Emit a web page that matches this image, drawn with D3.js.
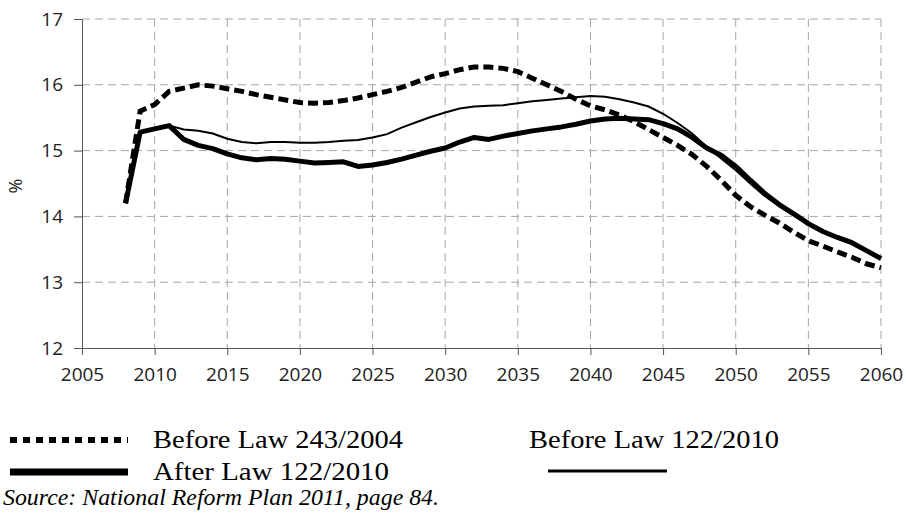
<!DOCTYPE html>
<html>
<head>
<meta charset="utf-8">
<script src="https://cdn.jsdelivr.net/npm/d3@7"></script>
<style>
  body { margin: 0; background: #fff; }
  svg { display: block; }
  .tick text, .axis-title { font-family: 'Open Sans', sans-serif; fill: #222; }
  .legend text { font-family: 'Liberation Serif', 'Times New Roman', serif; fill: #000; }
  text.source { font-family: 'Liberation Serif', 'Times New Roman', serif; font-style: italic; fill: #000; }
</style>
</head>
<body>
<svg id="chart" width="906" height="513"></svg>
<script>
// --- data (share of GDP, %) ---
const years = [2008, 2009, 2010, 2011, 2012, 2013, 2014, 2015, 2016, 2017, 2018, 2019,
  2020, 2021, 2022, 2023, 2024, 2025, 2026, 2027, 2028, 2029, 2030, 2031, 2032, 2033,
  2034, 2035, 2036, 2037, 2038, 2039, 2040, 2041, 2042, 2043, 2044, 2045, 2046, 2047,
  2048, 2049, 2050, 2051, 2052, 2053, 2054, 2055, 2056, 2057, 2058, 2059, 2060];

const before243 = [14.2, 15.6, 15.7, 15.9, 15.95, 16.0, 15.98, 15.94, 15.9, 15.85, 15.81, 15.77,
  15.73, 15.72, 15.73, 15.76, 15.8, 15.85, 15.9, 15.96, 16.04, 16.12, 16.17, 16.23, 16.27, 16.27,
  16.25, 16.2, 16.1, 16.0, 15.9, 15.78, 15.68, 15.62, 15.54, 15.44, 15.32, 15.2, 15.08, 14.94,
  14.76, 14.55, 14.32, 14.15, 14.02, 13.9, 13.76, 13.63, 13.55, 13.46, 13.38, 13.28, 13.22];

const after122 = [14.2, 15.28, 15.33, 15.38, 15.17, 15.08, 15.03, 14.95, 14.89, 14.86, 14.88, 14.87,
  14.84, 14.81, 14.82, 14.83, 14.76, 14.78, 14.82, 14.87, 14.93, 14.99, 15.04, 15.13, 15.2, 15.17,
  15.22, 15.26, 15.3, 15.33, 15.36, 15.4, 15.45, 15.48, 15.49, 15.48, 15.47, 15.41, 15.33, 15.2,
  15.04, 14.93, 14.76, 14.55, 14.35, 14.18, 14.04, 13.89, 13.77, 13.68, 13.6, 13.48, 13.36];

const before122 = [14.2, 15.28, 15.33, 15.38, 15.32, 15.3, 15.26, 15.18, 15.13, 15.11, 15.13, 15.13,
  15.12, 15.12, 15.13, 15.15, 15.16, 15.2, 15.25, 15.35, 15.43, 15.51, 15.58, 15.64, 15.67, 15.68,
  15.69, 15.72, 15.75, 15.77, 15.79, 15.81, 15.83, 15.82, 15.78, 15.73, 15.67, 15.56, 15.42, 15.26,
  15.06, 14.88, 14.7, 14.5, 14.31, 14.15, 14.01, 13.87, 13.76, 13.67, 13.59, 13.48, 13.38];

const xTicks = [2005, 2010, 2015, 2020, 2025, 2030, 2035, 2040, 2045, 2050, 2055, 2060];
const yTicks = [12, 13, 14, 15, 16, 17];
const legendLabels = ['Before Law 243/2004', 'Before Law 122/2010', 'After Law 122/2010'];
const sourceNote = 'Source: National Reform Plan 2011, page 84.';

// --- layout ---
const svg = d3.select('#chart');
const margin = { top: 19, right: 25, bottom: 165, left: 82 };
const W = 906, H = 513;
const plotW = W - margin.left - margin.right;
const plotH = H - margin.top - margin.bottom;

const x = d3.scaleLinear().domain([2005, 2060]).range([0, plotW]);
const y = d3.scaleLinear().domain([12, 17]).range([plotH, 0]);

const g = svg.append('g').attr('transform', `translate(${margin.left},${margin.top})`);

// dashed grid
g.append('g').selectAll('line')
  .data(yTicks.slice(1))
  .join('line')
  .attr('x1', 0).attr('x2', plotW)
  .attr('y1', d => y(d)).attr('y2', d => y(d))
  .attr('stroke', '#a6a6a6').attr('stroke-width', 1).attr('stroke-dasharray', '8,5');

g.append('g').selectAll('line')
  .data(xTicks.slice(1))
  .join('line')
  .attr('x1', d => x(d)).attr('x2', d => x(d))
  .attr('y1', 0).attr('y2', plotH)
  .attr('stroke', '#a6a6a6').attr('stroke-width', 1).attr('stroke-dasharray', '8,5');

// axes
g.append('g')
  .attr('transform', `translate(0,${plotH})`)
  .call(d3.axisBottom(x).tickValues(xTicks).tickFormat(d3.format('d')).tickSize(7).tickSizeOuter(0).tickPadding(13))
  .call(a => a.selectAll('text').attr('font-size', 19))
  .call(a => a.selectAll('line, path').attr('stroke', '#555'));

g.append('g')
  .call(d3.axisLeft(y).tickValues(yTicks).tickFormat(d3.format('d')).tickSize(8).tickSizeOuter(0).tickPadding(11))
  .call(a => a.selectAll('text').attr('font-size', 19))
  .call(a => a.selectAll('line, path').attr('stroke', '#555'));

svg.append('text')
  .attr('class', 'axis-title')
  .attr('transform', 'translate(22,186) rotate(-90)')
  .attr('text-anchor', 'middle')
  .attr('font-size', 18)
  .text('%');

// series
const line = vals => d3.line()
  .x((d, i) => x(years[i]))
  .y(d => y(d))(vals);

g.append('path')
  .attr('d', line(before122))
  .attr('fill', 'none').attr('stroke', '#000').attr('stroke-width', 2);

g.append('path')
  .attr('d', line(after122))
  .attr('fill', 'none').attr('stroke', '#000').attr('stroke-width', 5)
  .attr('stroke-linejoin', 'round');

g.append('path')
  .attr('d', line(before243))
  .attr('fill', 'none').attr('stroke', '#000').attr('stroke-width', 5)
  .attr('stroke-dasharray', '10,5');

// legend (serif, as in the source document; glyphs are a little stretched there)
const leg = svg.append('g').attr('class', 'legend');
const legText = (sel, len) => sel
  .attr('font-size', 25)
  .attr('textLength', len)
  .attr('lengthAdjust', 'spacingAndGlyphs');

leg.append('line')
  .attr('x1', 10).attr('x2', 128).attr('y1', 440).attr('y2', 440)
  .attr('stroke', '#000').attr('stroke-width', 6).attr('stroke-dasharray', '7,6');
leg.append('text').attr('x', 153).attr('y', 448)
  .call(legText, 250).text(legendLabels[0]);

leg.append('text').attr('x', 529).attr('y', 448)
  .call(legText, 250).text(legendLabels[1]);
leg.append('line')
  .attr('x1', 548).attr('x2', 667).attr('y1', 471).attr('y2', 471)
  .attr('stroke', '#000').attr('stroke-width', 3);

leg.append('line')
  .attr('x1', 10).attr('x2', 128).attr('y1', 472).attr('y2', 472)
  .attr('stroke', '#000').attr('stroke-width', 7);
leg.append('text').attr('x', 153).attr('y', 480)
  .call(legText, 236).text(legendLabels[2]);

svg.append('text')
  .attr('class', 'source')
  .attr('x', 3).attr('y', 505)
  .attr('font-size', 24)
  .attr('textLength', 436).attr('lengthAdjust', 'spacingAndGlyphs')
  .text(sourceNote);
</script>
</body>
</html>
